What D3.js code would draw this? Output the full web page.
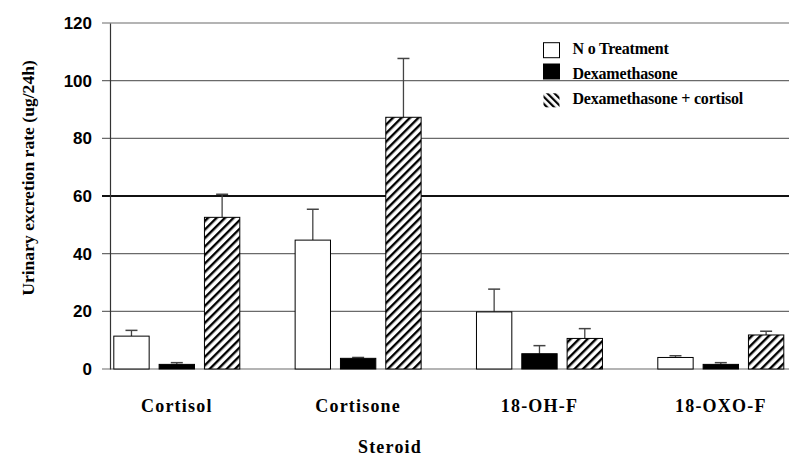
<!DOCTYPE html>
<html><head><meta charset="utf-8">
<script src="https://cdn.jsdelivr.net/npm/d3@7/dist/d3.min.js"></script>
<style>body{margin:0;background:#fff}svg{display:block}</style>
</head><body>
<svg id="c" width="800" height="465"></svg>
<script>
const categories = ["Cortisol", "Cortisone", "18-OH-F", "18-OXO-F"];
const seriesNames = ["N o Treatment", "Dexamethasone", "Dexamethasone + cortisol"];
const noTreatment = [11.4, 44.7, 19.8, 4.0];
const noTreatmentErr = [13.4, 55.4, 27.7, 4.6];
const dexamethasone = [1.6, 3.7, 5.3, 1.6];
const dexamethasoneErr = [2.2, 4.0, 8.1, 2.2];
const dexCortisol = [52.6, 87.3, 10.6, 11.8];
const dexCortisolErr = [60.6, 107.7, 14.0, 13.1];
const yTicks = [0, 20, 40, 60, 80, 100, 120];

const series = [
  {name: seriesNames[0], values: noTreatment, err: noTreatmentErr, fill: "#fff"},
  {name: seriesNames[1], values: dexamethasone, err: dexamethasoneErr, fill: "#000"},
  {name: seriesNames[2], values: dexCortisol, err: dexCortisolErr, fill: "url(#hatch)"}
];

const svg = d3.select("#c");
const defs = svg.append("defs");
const hp = defs.append("pattern").attr("id","hatch").attr("patternUnits","userSpaceOnUse")
  .attr("width",6).attr("height",6).attr("patternTransform","rotate(45)");
hp.append("rect").attr("width",6).attr("height",6).attr("fill","#fff");
hp.append("rect").attr("x",0).attr("width",2.4).attr("height",6).attr("fill","#000");
const hp2 = defs.append("pattern").attr("id","hatchL").attr("patternUnits","userSpaceOnUse")
  .attr("width",5).attr("height",5).attr("patternTransform","rotate(-45)");
hp2.append("rect").attr("width",5).attr("height",5).attr("fill","#fff");
hp2.append("rect").attr("x",0).attr("width",2.2).attr("height",5).attr("fill","#000");

const y = d3.scaleLinear().domain([0,120]).range([369,23]);
const x0 = d3.scalePoint().domain(categories).range([176.8, 720.8]);
const x1 = d3.scaleBand().domain(d3.range(3)).range([-63, 63]).paddingInner(0.22);

const axisX = 110, right = 789;
const serif = "Liberation Serif, Times New Roman, serif";

// gridlines
svg.append("g").selectAll("line").data(yTicks).join("line")
  .attr("x1", 102).attr("x2", right)
  .attr("y1", d => y(d)).attr("y2", d => y(d))
  .attr("stroke", d => d === 60 ? "#111" : "#6a6a6a")
  .attr("stroke-width", d => d === 60 ? 2 : 1.2);

// y axis via d3 axis
const yAxis = svg.append("g").attr("transform", `translate(${axisX},0)`)
  .call(d3.axisLeft(y).tickValues(yTicks).tickSize(0).tickPadding(18));
yAxis.select(".domain").attr("stroke","#333").attr("stroke-width",1.2);
yAxis.selectAll("text").attr("font-family","Liberation Sans, Arial, sans-serif")
  .attr("font-weight","bold").attr("font-size",17).attr("fill","#000");

// bars
const g = svg.append("g");
series.forEach((s, si) => {
  const grp = g.append("g");
  const cx = c => x0(c) + x1(si) + x1.bandwidth()/2;
  grp.selectAll("line.err").data(categories).join("line")
    .attr("x1", cx).attr("x2", cx)
    .attr("y1", (c,i) => y(s.values[i])).attr("y2", (c,i) => y(s.err[i]))
    .attr("stroke","#444").attr("stroke-width",1.3);
  grp.selectAll("line.cap").data(categories).join("line")
    .attr("x1", c => cx(c) - 6).attr("x2", c => cx(c) + 6)
    .attr("y1", (c,i) => y(s.err[i])).attr("y2", (c,i) => y(s.err[i]))
    .attr("stroke","#444").attr("stroke-width",1.5);
  grp.selectAll("rect").data(categories).join("rect")
    .attr("x", c => x0(c) + x1(si))
    .attr("width", x1.bandwidth())
    .attr("y", (c,i) => y(s.values[i]))
    .attr("height", (c,i) => y(0) - y(s.values[i]))
    .attr("fill", s.fill).attr("stroke","#000").attr("stroke-width",1);
});

// category labels
svg.append("g").selectAll("text").data(categories).join("text")
  .attr("x", c => x0(c)).attr("y", 411.5)
  .attr("text-anchor","middle")
  .attr("font-family", serif).attr("letter-spacing", 1.2)
  .attr("font-weight","bold").attr("font-size",18).text(c => c);

svg.append("text").attr("x", 390).attr("y", 453).attr("text-anchor","middle")
  .attr("font-family", serif).attr("letter-spacing", 1.2)
  .attr("font-weight","bold").attr("font-size",18).text("Steroid");

svg.append("text").attr("transform","translate(34,178) rotate(-90)")
  .attr("text-anchor","middle")
  .attr("font-family", serif)
  .attr("font-weight","bold").attr("font-size",17.6).text("Urinary excretion rate (ug/24h)");

// legend
const legFills = ["#fff", "#000", "url(#hatchL)"];
const legBoxTop = [42.7, 64, 93.3];
const leg = svg.append("g").selectAll("g").data(seriesNames).join("g");
leg.append("rect").attr("x", 543.5).attr("y", (d,i) => legBoxTop[i])
  .attr("width",16).attr("height",(d,i) => i === 2 ? 14 : 15)
  .attr("fill", (d,i) => legFills[i]).attr("stroke", (d,i) => i === 2 ? "none" : "#000").attr("stroke-width",1);
leg.append("text").attr("x", 572.5).attr("y", (d,i) => 54 + i*25)
  .attr("font-family", serif)
  .attr("font-weight","bold").attr("font-size",16).attr("letter-spacing", -0.2)
  .text(d => d);
</script>
</body></html>
